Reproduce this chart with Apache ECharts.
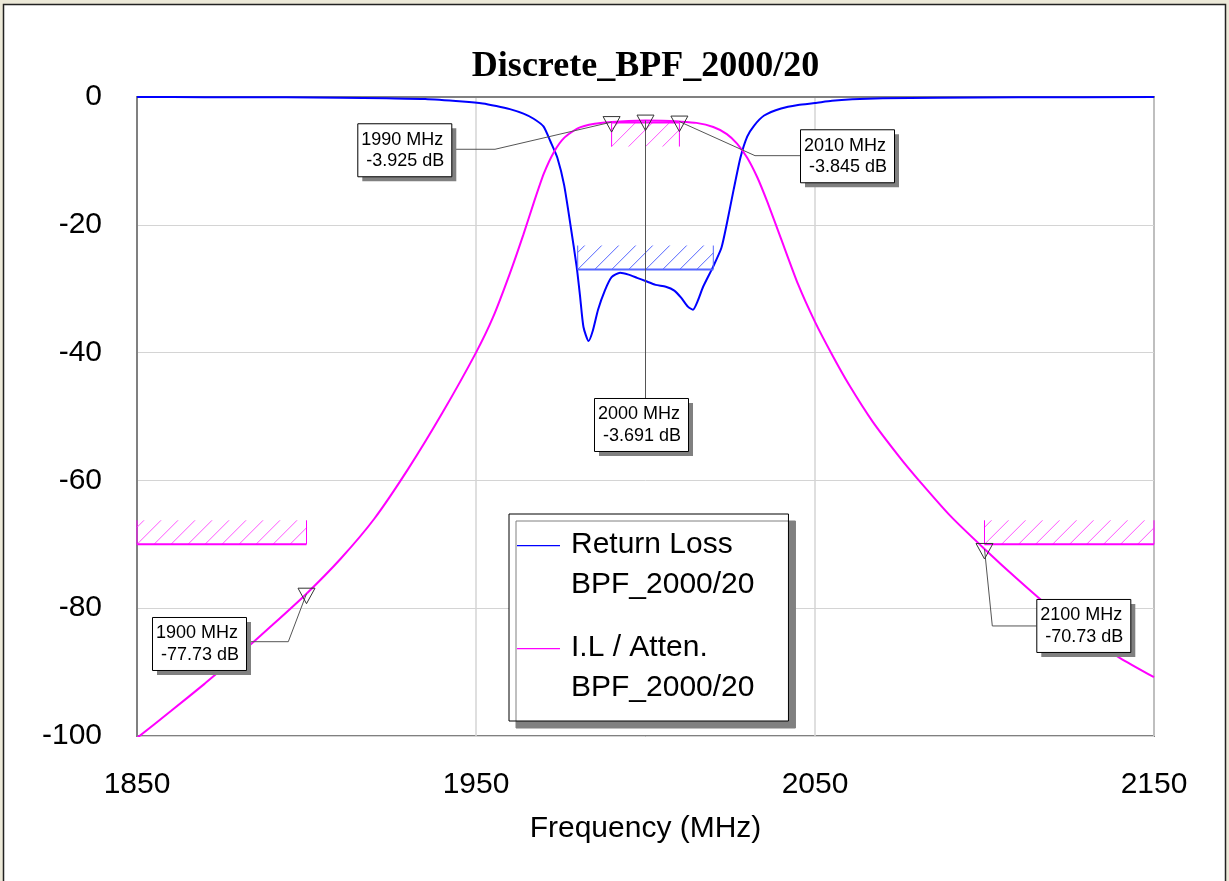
<!DOCTYPE html>
<html><head><meta charset="utf-8">
<script src="https://cdn.jsdelivr.net/npm/echarts@6/dist/echarts.min.js"></script>
<style>html,body{margin:0;padding:0;background:#ECE9D8;} #c{width:1229px;height:881px;}</style>
</head><body><div id="c"></div>
<script>
// ---------- data ----------
const chartTitle = 'Discrete_BPF_2000/20';
const xAxisName = 'Frequency (MHz)';
const xMin = 1850, xMax = 2150, xStep = 100;
const yMin = -100, yMax = 0, yStep = 20;
const seriesNames = ['Return Loss\nBPF_2000/20', 'I.L / Atten.\nBPF_2000/20'];

// Return loss (blue)
const rlFreq = [1850,1870,1894,1910,1923.6,1935,1946,1952,1956,1960,1964,1967,1969.9,1972,1974,1976,1978,1979.7,1980.7,1981.7,1983.2,1984.5,1986,1988,1990,1992.5,1995,1997.5,2000,2003,2006,2008.5,2010.5,2012.5,2014,2015.5,2017,2020,2022.4,2024,2026,2028,2030,2032,2035,2040,2045,2050,2055,2061,2070,2086,2110,2150];
const rlDb   = [0,-0.02,-0.05,-0.1,-0.2,-0.3,-0.7,-1.0,-1.4,-1.9,-2.6,-3.4,-4.6,-7,-9.5,-13.8,-20.5,-26.6,-31.2,-36,-38.2,-36.5,-33.3,-30.3,-28.2,-27.5,-27.8,-28.3,-28.8,-29.4,-29.7,-30.3,-31.4,-32.8,-33.3,-31.8,-29.7,-26.5,-23.6,-19.8,-14.5,-9.5,-6.2,-4.5,-2.9,-1.8,-1.25,-0.95,-0.6,-0.37,-0.2,-0.1,-0.05,0];

// Insertion loss / attenuation (magenta)
const ilFreq = [1850,1860,1870,1880,1890,1900,1910,1920,1930,1940,1950,1955,1960,1964,1967,1970,1973,1976,1980,1985,1990,1995,2000,2005,2010,2015,2020,2024,2027,2030,2033,2036,2040,2045,2050,2055,2060,2067,2075,2080,2090,2100,2110,2120,2130,2140,2150];
const ilDb   = [-100.3,-96.1,-91.8,-87.3,-82.6,-77.73,-72.3,-66,-58.2,-49.5,-40,-34.5,-27.6,-21.5,-16.6,-12,-8.6,-6.4,-4.9,-4.2,-3.925,-3.75,-3.691,-3.72,-3.845,-4.05,-4.7,-5.8,-7.3,-9.5,-12.6,-16.5,-22.2,-29.3,-35.2,-40.3,-45,-50.8,-56.4,-59.6,-65.6,-70.73,-75.6,-80.2,-84.3,-87.8,-90.8];

// Markers
const markerFreq = [1900, 1990, 2000, 2010, 2100];
const markerDb   = [-77.73, -3.925, -3.691, -3.845, -70.73];

// Spec masks
const maskFrom  = [1850, 2100, 1990, 1980];
const maskTo    = [1900, 2150, 2010, 2020];
const maskLevel = [-70, -70, -4, -27];

// ---------- styles / layout ----------
const BLUE = '#0000FF', MAG = '#FF00FF';
const maskStyle = [
  {side: -1, line: '#FF00FF', hatch: '#FF55FF'},
  {side: -1, line: '#FF00FF', hatch: '#FF55FF'},
  {side:  1, line: '#FF00FF', hatch: '#FF55FF'},
  {side: -1, line: '#5566FF', hatch: '#5566FF'}
];
const labelLayout = [
  {dx: -154.5, dy: 23.3, leader: [[-18.2, 48], [-61.5, 48]]},
  {dx: -254.3, dy: 1.2,  leader: [[-116.6, 27.2], [-160.6, 27.2]]},
  {dx: -51.5,  dy: 277.4, leader: [[0, 277.4]]},
  {dx: 120.6,  dy: 7.7,  leader: [[75.6, 34.1], [120.6, 34.1]]},
  {dx: 51.8,   dy: 50,   leader: [[7.8, 77], [51.8, 77]]}
];
const SANS = '"Liberation Sans", Arial, sans-serif';

function renderMask(params, api) {
  const i = params.dataIndex;
  const a = api.coord([api.value(0), api.value(2)]);
  const b = api.coord([api.value(1), api.value(2)]);
  const st = maskStyle[i];
  const H = 24, step = 17;
  const y0 = a[1], y1 = y0 + st.side * H;
  const top = Math.min(y0, y1), bottom = Math.max(y0, y1);
  const ch = [];
  for (let bx = a[0] - 2 * step; bx < b[0]; bx += step) {
    const t0 = Math.max(0, a[0] - bx), t1 = Math.min(H, b[0] - bx);
    if (t1 <= t0) continue;
    ch.push({type: 'line', shape: {x1: bx + t0, y1: bottom - t0, x2: bx + t1, y2: bottom - t1},
      style: {stroke: st.hatch, lineWidth: 1}});
  }
  ch.push({type: 'line', shape: {x1: a[0], y1: y0, x2: b[0], y2: y0}, style: {stroke: st.line, lineWidth: 2}});
  ch.push({type: 'line', shape: {x1: a[0], y1: top, x2: a[0], y2: bottom}, style: {stroke: st.line, lineWidth: 1}});
  ch.push({type: 'line', shape: {x1: b[0], y1: top, x2: b[0], y2: bottom}, style: {stroke: st.line, lineWidth: 1}});
  return {type: 'group', children: ch};
}

function renderMarker(params, api) {
  const i = params.dataIndex;
  const f = api.value(0), v = api.value(1);
  const p = api.coord([f, v]);
  const L = labelLayout[i];
  const bx = p[0] + L.dx, by = p[1] + L.dy, W = 94, Hh = 53;
  const pts = [[p[0], p[1]]].concat(L.leader.map(q => [p[0] + q[0], p[1] + q[1]]));
  return {type: 'group', children: [
    {type: 'polyline', shape: {points: pts}, style: {stroke: '#555', lineWidth: 1, fill: 'none'}},
    {type: 'polygon', shape: {points: [[p[0] - 8.5, p[1] - 5.5], [p[0] + 8.5, p[1] - 5.5], [p[0], p[1] + 10]]},
      style: {stroke: '#333', fill: 'none', lineWidth: 1}},
    {type: 'rect', shape: {x: bx + 5, y: by + 5, width: W, height: Hh}, style: {fill: '#808080'}},
    {type: 'rect', shape: {x: bx + 0.5, y: by + 0.5, width: W, height: Hh}, style: {fill: '#fff', stroke: '#000', lineWidth: 1}},
    {type: 'text', style: {x: bx + 4, y: by + 16.5, text: f + ' MHz', fill: '#000', font: '18px ' + SANS, align: 'left', verticalAlign: 'middle'}},
    {type: 'text', style: {x: bx + 4, y: by + 38, text: ' ' + v + ' dB', fill: '#000', font: '18px ' + SANS, align: 'left', verticalAlign: 'middle'}}
  ]};
}

const chart = echarts.init(document.getElementById('c'), null, {renderer: 'canvas'});
chart.setOption({
  animation: false,
  backgroundColor: '#ECE9D8',
  graphic: [{type: 'rect', z: -100, silent: true,
    shape: {x: 3.5, y: 4.5, width: 1222, height: 900},
    style: {fill: '#fff', stroke: '#222', lineWidth: 1.5}}],
  title: {text: chartTitle, left: 645.5, top: 49, padding: 0, textAlign: 'center',
    textStyle: {fontFamily: '"Liberation Serif", "Times New Roman", serif', fontWeight: 'bold', fontSize: 36, color: '#000'}},
  grid: {left: 137, right: 75, top: 97, bottom: 145, show: true, borderColor: '#808080', borderWidth: 2, backgroundColor: '#fff'},
  legend: {
    left: 509, top: 514, orient: 'vertical', selectedMode: false,
    data: seriesNames,
    backgroundColor: '#fff', borderColor: '#000', borderWidth: 1, borderRadius: 0,
    shadowColor: '#808080', shadowOffsetX: 7, shadowOffsetY: 7, shadowBlur: 0,
    padding: [11, 34, 13, 8],
    itemWidth: 49, itemHeight: 40, itemGap: 23,
    icon: 'path://M0,0L43,0L43,1.3L0,1.3ZM49,40L49,40.01',
    itemStyle: {borderWidth: 0},
    textStyle: {fontFamily: SANS, fontSize: 30, lineHeight: 40, color: '#000'}
  },
  xAxis: {
    type: 'value', min: xMin, max: xMax, interval: xStep,
    name: xAxisName, nameLocation: 'middle', nameGap: 78,
    nameTextStyle: {fontFamily: SANS, fontSize: 30, color: '#000'},
    axisLine: {show: true, lineStyle: {color: '#808080', width: 2}},
    axisTick: {show: false},
    axisLabel: {fontFamily: SANS, fontSize: 30, color: '#000', margin: 34, formatter: v => String(v)},
    splitLine: {show: true, lineStyle: {color: '#D4D4D4', width: 1.5}}
  },
  yAxis: {
    type: 'value', min: yMin, max: yMax, interval: yStep,
    axisLine: {show: true, lineStyle: {color: '#808080', width: 2}},
    axisTick: {show: false},
    axisLabel: {fontFamily: SANS, fontSize: 30, color: '#000', margin: 35, formatter: v => String(v)},
    splitLine: {show: true, lineStyle: {color: '#D4D4D4', width: 1}}
  },
  series: [
    {name: seriesNames[0], type: 'line', data: rlFreq.map((f, i) => [f, rlDb[i]]),
      showSymbol: false, smooth: 0.2, color: BLUE, lineStyle: {color: BLUE, width: 2}, z: 3, silent: true},
    {name: seriesNames[1], type: 'line', data: ilFreq.map((f, i) => [f, ilDb[i]]),
      showSymbol: false, smooth: 0.2, color: MAG, lineStyle: {color: MAG, width: 2}, z: 3, silent: true},
    {name: 'masks', type: 'custom', renderItem: renderMask, silent: true, z: 4,
      encode: {x: [0, 1], y: 2},
      data: maskFrom.map((f, i) => [f, maskTo[i], maskLevel[i]])},
    {name: 'markers', type: 'custom', renderItem: renderMarker, silent: true, z: 6,
      encode: {x: 0, y: 1},
      data: markerFreq.map((f, i) => [f, markerDb[i]])}
  ]
});
</script>
</body></html>
